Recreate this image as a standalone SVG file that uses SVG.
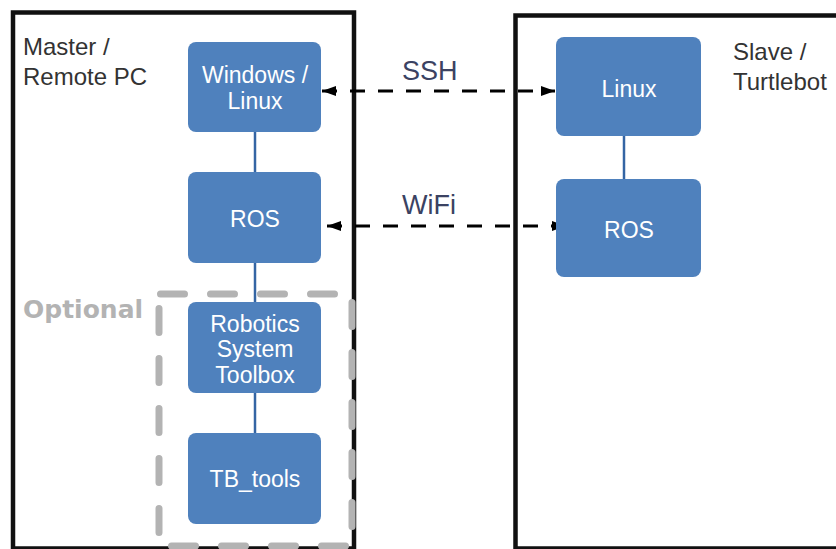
<svg xmlns="http://www.w3.org/2000/svg" width="836" height="549" viewBox="0 0 836 549">
<defs>
<marker id="ah" viewBox="0 0 14 10" refX="14" refY="5" markerWidth="14" markerHeight="10" markerUnits="userSpaceOnUse" orient="auto-start-reverse">
<path d="M0,0 L14,5 L0,10 Z" fill="#000"/>
</marker>
<style>
.frame{fill:none;stroke:#111;stroke-width:4.5}
.node{fill:#4f81bd}
.nt{font-family:"Liberation Sans",Arial,sans-serif;font-size:23px;fill:#fff;text-anchor:middle}
.lbl{font-family:"Liberation Sans",Arial,sans-serif;font-size:24px;fill:#333}
.link{font-family:"Liberation Sans",Arial,sans-serif;font-size:27px;fill:#3b4262}
.conn{stroke:#3465a4;stroke-width:2.5;fill:none}
.arr{stroke:#000;stroke-width:3;stroke-dasharray:15 13;fill:none}
</style>
</defs>
<rect width="836" height="549" fill="#fff"/>
<g id="master-frame">
<rect class="frame" x="13" y="12.5" width="341" height="536"/>
<text class="lbl" x="23" y="55">Master /</text>
<text class="lbl" x="23" y="85">Remote PC</text>
</g>
<g id="slave-frame">
<rect class="frame" x="515.5" y="15.5" width="340" height="533"/>
<text class="lbl" x="733" y="60">Slave /</text>
<text class="lbl" x="733" y="90">Turtlebot</text>
</g>
<g id="optional">
<path d="M159,294 H352 V546 H159 Z" fill="none" stroke="#b3b3b3" stroke-width="7" stroke-linecap="round" stroke-dasharray="24 26" stroke-dashoffset="-1.5"/>
<text x="23" y="318" font-family="'DejaVu Sans',sans-serif" font-weight="bold" font-size="25" fill="#b3b3b3">Optional</text>
</g>
<g id="connectors">
<line class="conn" x1="255" y1="132" x2="255" y2="172"/>
<line class="conn" x1="255" y1="263" x2="255" y2="302"/>
<line class="conn" x1="255" y1="393" x2="255" y2="433"/>
<line class="conn" x1="624" y1="136" x2="624" y2="179"/>
<line class="arr" x1="322" y1="91" x2="555" y2="91" marker-start="url(#ah)" marker-end="url(#ah)"/>
<line class="arr" x1="327" y1="226" x2="566" y2="226" marker-start="url(#ah)" marker-end="url(#ah)"/>
<text class="link" x="402" y="80">SSH</text>
<text class="link" x="402" y="214">WiFi</text>
</g>
<g id="win-linux">
<rect class="node" x="188" y="42" width="133" height="90" rx="8"/>
<text class="nt" x="255" y="83">Windows /</text>
<text class="nt" x="255" y="109">Linux</text>
</g>
<g id="ros-master">
<rect class="node" x="188" y="172" width="133" height="91" rx="8"/>
<text class="nt" x="255" y="227">ROS</text>
</g>
<g id="rst">
<rect class="node" x="188" y="302" width="133" height="91" rx="8"/>
<text class="nt" x="255" y="332">Robotics</text>
<text class="nt" x="255" y="357">System</text>
<text class="nt" x="255" y="383">Toolbox</text>
</g>
<g id="tb-tools">
<rect class="node" x="188" y="433" width="133" height="91" rx="8"/>
<text class="nt" x="255" y="487">TB_tools</text>
</g>
<g id="linux-slave">
<rect class="node" x="556" y="37" width="145" height="99" rx="8"/>
<text class="nt" x="629" y="97">Linux</text>
</g>
<g id="ros-slave">
<rect class="node" x="556" y="179" width="145" height="98" rx="8"/>
<text class="nt" x="629" y="238">ROS</text>
</g>
</svg>
